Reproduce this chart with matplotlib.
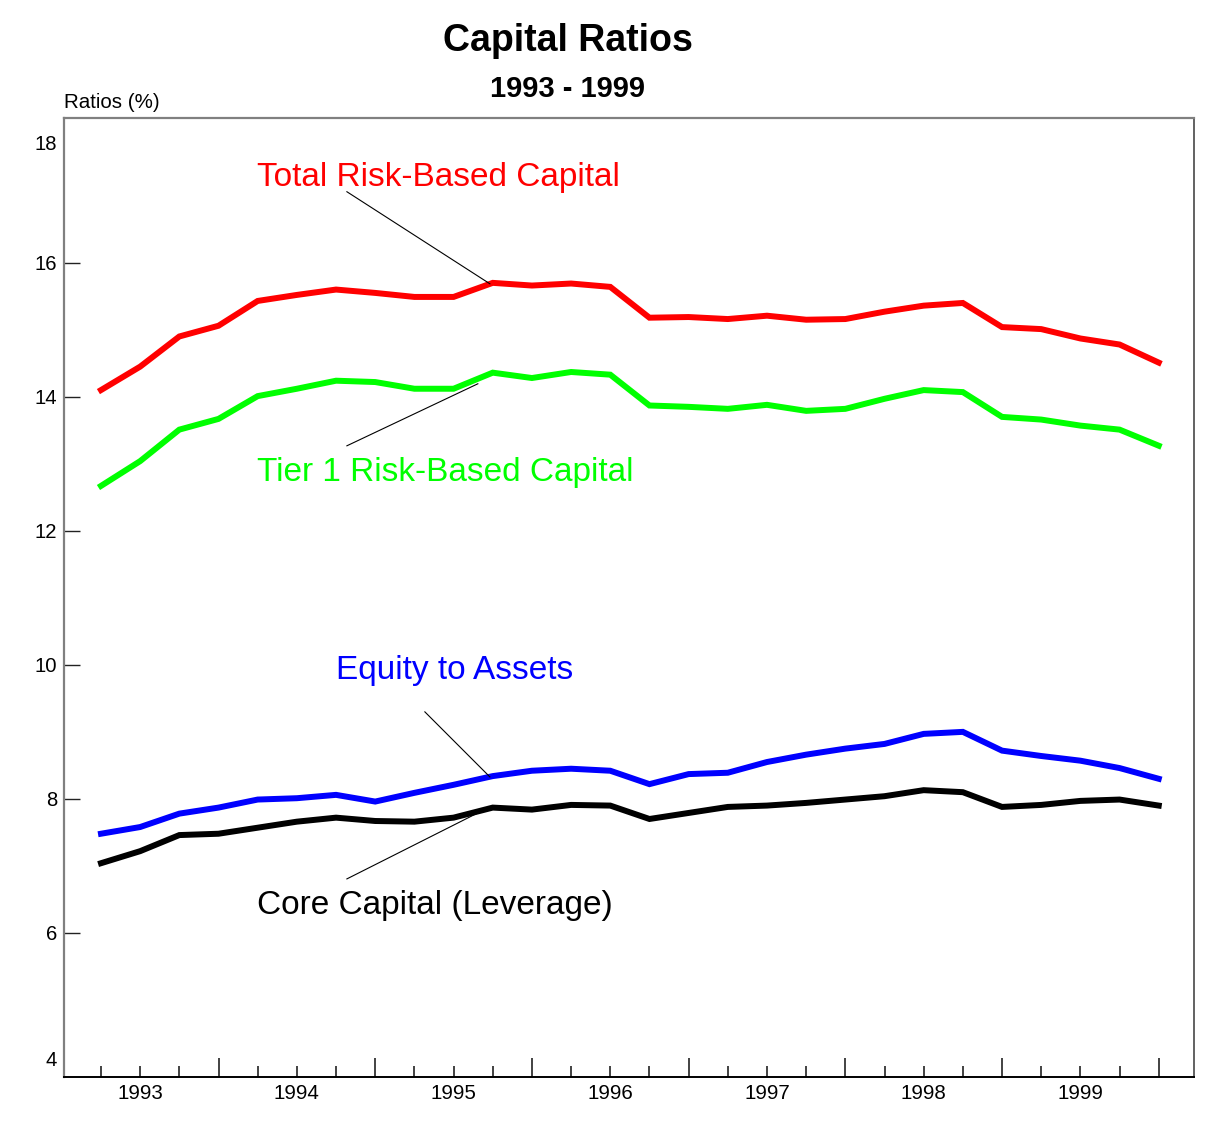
import matplotlib
matplotlib.use("Agg")
import matplotlib.pyplot as plt
import numpy as np

plt.rcParams['font.family'] = ['Liberation Sans', 'DejaVu Sans']

# Quarterly observations, 1992 Q4 through 1999 Q3
quarters = 1992.75 + 0.25 * np.arange(28)

total_rbc = [14.10, 14.45, 14.90, 15.06, 15.43, 15.52, 15.60, 15.55, 15.49, 15.49,
             15.70, 15.66, 15.69, 15.64, 15.18, 15.19, 15.16, 15.21, 15.15, 15.16,
             15.27, 15.36, 15.40, 15.04, 15.01, 14.87, 14.78, 14.51]
tier1_rbc = [12.67, 13.04, 13.51, 13.67, 14.01, 14.12, 14.24, 14.22, 14.12, 14.12,
             14.36, 14.28, 14.37, 14.33, 13.87, 13.85, 13.82, 13.88, 13.79, 13.82,
             13.97, 14.10, 14.07, 13.70, 13.66, 13.57, 13.51, 13.27]
equity_assets = [7.48, 7.58, 7.78, 7.87, 7.99, 8.01, 8.06, 7.96, 8.09, 8.21,
                 8.34, 8.42, 8.45, 8.42, 8.22, 8.37, 8.39, 8.55, 8.66, 8.75,
                 8.82, 8.97, 9.00, 8.72, 8.64, 8.57, 8.46, 8.30]
core_capital = [7.04, 7.22, 7.46, 7.48, 7.57, 7.66, 7.72, 7.67, 7.66, 7.72,
                7.87, 7.84, 7.91, 7.90, 7.70, 7.79, 7.88, 7.90, 7.94, 7.99,
                8.04, 8.13, 8.10, 7.88, 7.91, 7.97, 7.99, 7.90]

year_labels = [1993, 1994, 1995, 1996, 1997, 1998, 1999]
y_ticks = [6, 8, 10, 12, 14, 16]

W, H = 1228, 1142
fig = plt.figure(figsize=(W / 100, H / 100), dpi=100)
ax = fig.add_axes([64 / W, 1 - 1077 / H, (1194 - 64) / W, (1077 - 118) / H])

lw = 4.3
ax.plot(quarters, total_rbc, color='#ff0000', lw=lw, solid_joinstyle='miter')
ax.plot(quarters, tier1_rbc, color='#00ff00', lw=lw, solid_joinstyle='miter')
ax.plot(quarters, equity_assets, color='#0000ff', lw=lw, solid_joinstyle='miter')
ax.plot(quarters, core_capital, color='#000000', lw=lw, solid_joinstyle='miter')

ax.set_xlim(1992.514, 1999.725)
ax.set_ylim(3.85, 18.16)

# spines
ax.spines['left'].set_color('#808080')
ax.spines['left'].set_linewidth(1.6)
ax.spines['top'].set_color('#808080')
ax.spines['top'].set_linewidth(1.6)
ax.spines['right'].set_color('#555555')
ax.spines['right'].set_linewidth(1.3)
ax.spines['bottom'].set_color('#000000')
ax.spines['bottom'].set_linewidth(1.4)

# y ticks
ax.set_yticks(y_ticks)
ax.set_yticklabels([str(v) for v in y_ticks])
ax.tick_params(axis='y', direction='in', length=11.5, width=1.0, color='#222222',
               labelsize=14.6, pad=5)
ytr = ax.get_yaxis_transform()
ax.text(-0.0062, 17.77, '18', ha='right', va='center', fontsize=14.6, transform=ytr)
ax.text(-0.0062, 4.10, '4', ha='right', va='center', fontsize=14.6, transform=ytr)

# x ticks
ax.set_xticks(year_labels)
ax.set_xticklabels([str(y) for y in year_labels])
other_q = [q for q in quarters if abs(q - round(q)) > 1e-6 and abs((q % 1) - 0.5) > 1e-6]
ax.set_xticks(other_q, minor=True)
ax.tick_params(axis='x', which='both', direction='in', length=8, width=1.2,
               color='#222222', labelsize=14.8, pad=5)
half_years = [q for q in quarters if abs((q % 1) - 0.5) < 1e-6]
xtr = ax.get_xaxis_transform()
ax.vlines(half_years, 0, 19 / 959, transform=xtr, color='#222222', lw=1.2)

# titles
fig.text(568 / W, 1 - 41 / H, 'Capital Ratios', ha='center', va='center',
         fontsize=27, fontweight='bold')
fig.text(568 / W, 1 - 89 / H, '1993 - 1999', ha='center', va='center',
         fontsize=21, fontweight='bold')
fig.text(64 / W, 1 - 102 / H, 'Ratios (%)', ha='left', va='center', fontsize=14.8)

# series labels
def fx(px):
    return 1992.75 + (px - 101) / 39.19 * 0.25

def fy(py):
    return 8 + (799 - py) / 67.0

lab_fs = 24
ax.text(fx(257), fy(178), 'Total Risk-Based Capital', color='#ff0000',
        fontsize=lab_fs, ha='left', va='center')
ax.text(fx(257), fy(473), 'Tier 1 Risk-Based Capital', color='#00ff00',
        fontsize=lab_fs, ha='left', va='center')
ax.text(fx(336), fy(671), 'Equity to Assets', color='#0000ff',
        fontsize=lab_fs, ha='left', va='center')
ax.text(fx(257), fy(906), 'Core Capital (Leverage)', color='#000000',
        fontsize=lab_fs, ha='left', va='center')

# leader lines
leaders = [((347, 192), (490, 284)),
           ((347, 446), (478, 384)),
           ((425, 712), (490, 777)),
           ((347, 879), (484, 810))]
for (x0, y0), (x1, y1) in leaders:
    ax.plot([fx(x0), fx(x1)], [fy(y0), fy(y1)], color='black', lw=0.8)

fig.savefig('out.png', dpi=100)
